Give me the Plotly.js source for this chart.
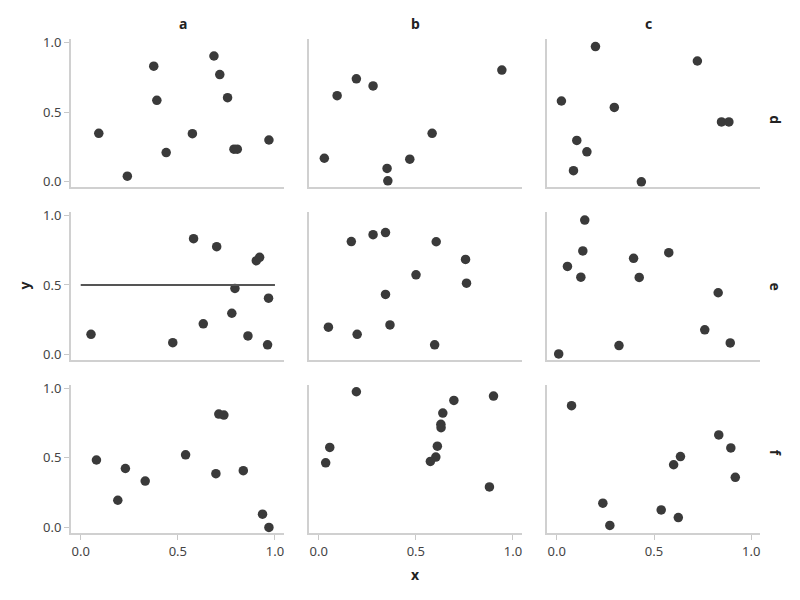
<!DOCTYPE html>
<html>
<head>
<meta charset="utf-8">
<script src="https://cdn.plot.ly/plotly-3.0.1.min.js"></script>
<style>html,body{margin:0;padding:0;background:#fff}</style>
</head>
<body>
<div id="chart" style="width:800px;height:600px"></div>
<script>
// Facet categories
const facetCols = ['a', 'b', 'c'];
const facetRows = ['d', 'e', 'f'];
const xTickVals = [0, 0.5, 1];
const xTickText = ['0.0', '0.5', '1.0'];
const yTickVals = [0, 0.5, 1];
const yTickText = ['0.0', '0.5', '1.0'];

// Panel data (col, row)
const x_a_d = [0.093, 0.240, 0.376, 0.392, 0.440, 0.575, 0.686, 0.716, 0.756, 0.789, 0.806, 0.969];
const y_a_d = [0.348, 0.040, 0.830, 0.585, 0.210, 0.345, 0.903, 0.770, 0.604, 0.234, 0.234, 0.300];
const x_b_d = [0.029, 0.095, 0.194, 0.280, 0.352, 0.356, 0.469, 0.584, 0.943];
const y_b_d = [0.169, 0.618, 0.739, 0.688, 0.096, 0.007, 0.162, 0.348, 0.802];
const x_c_d = [0.199, 0.723, 0.024, 0.296, 0.847, 0.885, 0.103, 0.155, 0.086, 0.435];
const y_c_d = [0.971, 0.867, 0.580, 0.534, 0.430, 0.430, 0.297, 0.215, 0.080, 0.000];

const x_a_e = [0.053, 0.474, 0.581, 0.631, 0.700, 0.778, 0.794, 0.861, 0.904, 0.921, 0.967, 0.962];
const y_a_e = [0.146, 0.086, 0.832, 0.221, 0.775, 0.297, 0.475, 0.134, 0.674, 0.698, 0.405, 0.070];
const x_b_e = [0.168, 0.280, 0.344, 0.605, 0.756, 0.501, 0.761, 0.344, 0.050, 0.198, 0.367, 0.597];
const y_b_e = [0.811, 0.861, 0.876, 0.810, 0.683, 0.573, 0.513, 0.432, 0.197, 0.146, 0.213, 0.070];
const x_c_e = [0.144, 0.134, 0.055, 0.124, 0.395, 0.576, 0.424, 0.830, 0.761, 0.892, 0.320, 0.010];
const y_c_e = [0.966, 0.744, 0.633, 0.556, 0.691, 0.732, 0.554, 0.444, 0.178, 0.084, 0.065, 0.005];

const x_a_f = [0.081, 0.191, 0.230, 0.332, 0.540, 0.696, 0.711, 0.737, 0.837, 0.936, 0.969];
const y_a_f = [0.484, 0.195, 0.423, 0.333, 0.521, 0.386, 0.814, 0.807, 0.407, 0.095, 0.000];
const x_b_f = [0.194, 0.057, 0.036, 0.696, 0.900, 0.639, 0.629, 0.630, 0.611, 0.603, 0.575, 0.879];
const y_b_f = [0.974, 0.574, 0.464, 0.912, 0.943, 0.821, 0.740, 0.716, 0.583, 0.505, 0.474, 0.291];
const x_c_f = [0.076, 0.833, 0.895, 0.636, 0.601, 0.918, 0.237, 0.537, 0.625, 0.273];
const y_c_f = [0.874, 0.664, 0.571, 0.509, 0.450, 0.360, 0.174, 0.126, 0.071, 0.014];

// Reference line in panel (a, e)
const hlineX = [0, 1];
const hlineY = [0.5, 0.5];

const panels = {
  a_d: [x_a_d, y_a_d], b_d: [x_b_d, y_b_d], c_d: [x_c_d, y_c_d],
  a_e: [x_a_e, y_a_e], b_e: [x_b_e, y_b_e], c_e: [x_c_e, y_c_e],
  a_f: [x_a_f, y_a_f], b_f: [x_b_f, y_b_f], c_f: [x_c_f, y_c_f]
};

const FONT = 'Noto Sans, Open Sans, sans-serif';
const xDomains = [[0, 0.3087], [0.3454, 0.6541], [0.6909, 1]];
const yDomains = [[0.6997, 1], [0.3498, 0.6502], [0, 0.3003]]; // d, e, f
const xRange = [-0.05, 1.045];
const yRange = [-0.04, 1.025];

const traces = [];
const layout = {
  width: 800, height: 600,
  margin: {l: 71, r: 40, t: 38.5, b: 67},
  paper_bgcolor: '#fff', plot_bgcolor: '#fff',
  showlegend: false,
  font: {family: FONT, size: 13, color: '#444'},
  annotations: []
};

let idx = 0;
facetRows.forEach((r, ri) => {
  facetCols.forEach((c, ci) => {
    idx++;
    const sfx = idx === 1 ? '' : String(idx);
    const [xs, ys] = panels[c + '_' + r];
    traces.push({
      type: 'scatter', mode: 'markers', x: xs, y: ys,
      xaxis: 'x' + sfx, yaxis: 'y' + sfx,
      marker: {color: '#3a3a3a', size: 9.5},
      hoverinfo: 'skip'
    });
    const bottom = ri === facetRows.length - 1;
    const left = ci === 0;
    layout['xaxis' + sfx] = {
      domain: xDomains[ci], range: xRange, anchor: 'y' + sfx,
      showline: true, linecolor: '#d0d0d0', linewidth: 2,
      showgrid: false, zeroline: false,
      ticks: bottom ? 'outside' : '', ticklen: 5, tickcolor: '#c8c8c8', tickwidth: 1,
      showticklabels: bottom, tickvals: xTickVals, ticktext: xTickText,
      tickfont: {family: FONT, size: 13, color: '#444'}
    };
    layout['yaxis' + sfx] = {
      domain: yDomains[ri], range: yRange, anchor: 'x' + sfx,
      showline: true, linecolor: '#d0d0d0', linewidth: 2,
      showgrid: false, zeroline: false,
      ticks: left ? 'outside' : '', ticklen: 5, tickcolor: '#c8c8c8', tickwidth: 1,
      showticklabels: left, tickvals: yTickVals, ticktext: yTickText,
      tickfont: {family: FONT, size: 13, color: '#444'}
    };
  });
});

// reference line on panel a/e (subplot index 4)
traces.push({
  type: 'scatter', mode: 'lines', x: hlineX, y: hlineY,
  xaxis: 'x4', yaxis: 'y4',
  line: {color: '#555', width: 2}, hoverinfo: 'skip'
});

// column facet labels
facetCols.forEach((c, ci) => {
  layout.annotations.push({
    text: '<b>' + c + '</b>', xref: 'paper', yref: 'paper',
    x: (xDomains[ci][0] + xDomains[ci][1]) / 2, y: 1, yanchor: 'bottom', yshift: 4,
    showarrow: false, font: {family: FONT, size: 14, color: '#222'}
  });
});
// row facet labels
facetRows.forEach((r, ri) => {
  layout.annotations.push({
    text: '<b>' + r + '</b>', xref: 'paper', yref: 'paper',
    x: 1, xanchor: 'left', xshift: 4,
    y: (yDomains[ri][0] + yDomains[ri][1]) / 2, textangle: 90,
    showarrow: false, font: {family: FONT, size: 14, color: '#222'}
  });
});
// axis titles
layout.annotations.push({
  text: '<b>x</b>', xref: 'paper', yref: 'paper',
  x: (xDomains[1][0] + xDomains[1][1]) / 2, y: 0, yanchor: 'top', yshift: -30,
  showarrow: false, font: {family: FONT, size: 14, color: '#222'}
});
layout.annotations.push({
  text: '<b>y</b>', xref: 'paper', yref: 'paper',
  x: 0, xanchor: 'right', xshift: -36,
  y: (yDomains[1][0] + yDomains[1][1]) / 2, textangle: -90,
  showarrow: false, font: {family: FONT, size: 14, color: '#222'}
});

Plotly.newPlot('chart', traces, layout, {displayModeBar: false, staticPlot: true});
</script>
</body>
</html>
